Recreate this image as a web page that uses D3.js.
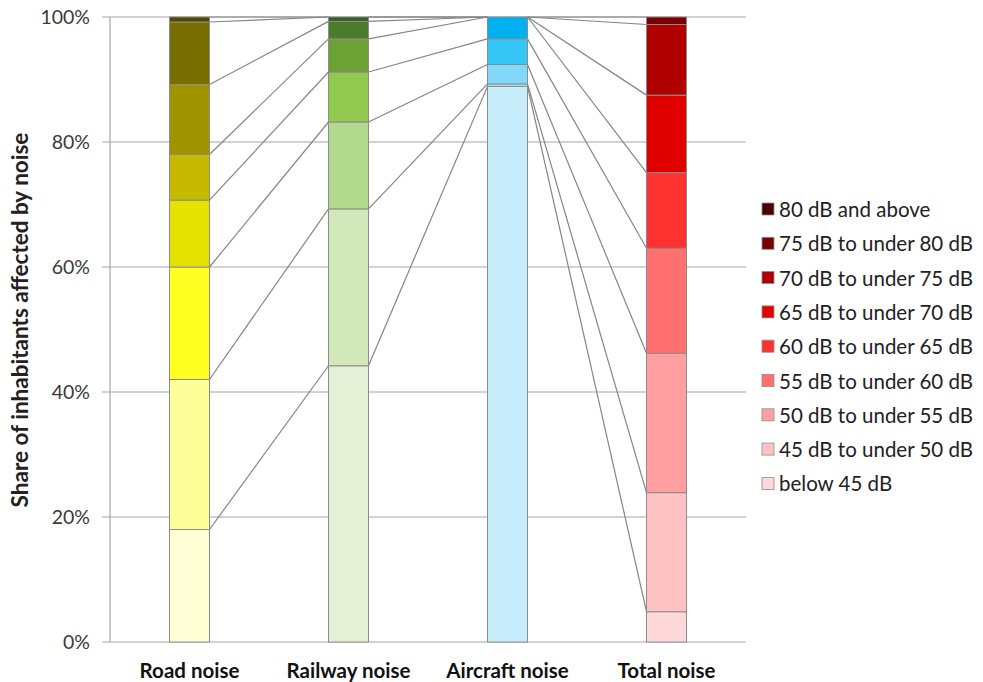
<!DOCTYPE html>
<html>
<head>
<meta charset="utf-8">
<script src="https://cdn.jsdelivr.net/npm/d3@7"></script>
<style>
  html, body { margin: 0; padding: 0; background: #ffffff; }
  svg { display: block; font-family: Lato, "Open Sans", sans-serif; }
</style>
</head>
<body>
<svg id="chart" width="983" height="682"></svg>
<script>
// ---- Data ----
const categories = ["Road noise", "Railway noise", "Aircraft noise", "Total noise"];
const bands = ["below 45 dB", "45 dB to under 50 dB", "50 dB to under 55 dB", "55 dB to under 60 dB",
               "60 dB to under 65 dB", "65 dB to under 70 dB", "70 dB to under 75 dB",
               "75 dB to under 80 dB", "80 dB and above"];
const roadValues     = [18.0, 24.0, 18.0, 10.7, 7.3, 11.2, 10.0, 0.8, 0];
const railwayValues  = [44.2, 25.1, 13.9, 8.0, 5.3, 2.8, 0.7, 0, 0];
const aircraftValues = [88.9, 0.4, 3.1, 4.1, 3.5, 0, 0, 0, 0];
const totalValues    = [4.85, 19.05, 22.3, 16.8, 12.1, 12.4, 11.3, 1.2, 0];
const yTickValues = [0, 20, 40, 60, 80, 100];
const yTickLabels = ["0%", "20%", "40%", "60%", "80%", "100%"];
const legendOrder = bands.slice().reverse();

// ---- Colours ----
const palettes = {
  "Road noise":     ["#ffffd6", "#ffff99", "#ffff22", "#e6e200", "#c6ba00", "#9f9300", "#786e00", "#504900", "#333000"],
  "Railway noise":  ["#e4f1d7", "#d1e8bb", "#b3da8c", "#92c950", "#6aa334", "#4b7c2b", "#3a5e22", "#2a4418", "#1c2e10"],
  "Aircraft noise": ["#c8eefb", "#a6e3f8", "#80d9f9", "#35c6f6", "#00b0f0", "#0090c8", "#0070a0", "#005078", "#003050"],
  "Total noise":    ["#ffd9d9", "#ffc2c2", "#ff9f9f", "#ff7070", "#ff3232", "#e00000", "#b00000", "#7a0000", "#4a0000"]
};

// ---- Table ----
const seriesByCat = {
  "Road noise": roadValues, "Railway noise": railwayValues,
  "Aircraft noise": aircraftValues, "Total noise": totalValues
};
const table = categories.map(c => {
  const row = { category: c };
  bands.forEach((b, i) => row[b] = seriesByCat[c][i]);
  return row;
});
const stacked = d3.stack().keys(bands)(table);

// ---- Layout ----
const svg = d3.select("#chart");
const plotLeft = 110, plotRight = 746, plotTop = 17, plotBottom = 642;

const x = d3.scaleBand().domain(categories).range([plotLeft, plotRight]).paddingInner(0).paddingOuter(0);
const barW = 40;
const y = d3.scaleLinear().domain([0, 100]).range([plotBottom, plotTop]);

// gridlines
svg.append("g")
  .selectAll("line")
  .data(yTickValues)
  .join("line")
  .attr("x1", plotLeft - 8)
  .attr("x2", plotRight)
  .attr("y1", d => y(d))
  .attr("y2", d => y(d))
  .attr("stroke", "#a6a6a6")
  .attr("stroke-width", 1.2);

// y axis line
svg.append("line")
  .attr("x1", plotLeft).attr("x2", plotLeft)
  .attr("y1", y(0)).attr("y2", y(100))
  .attr("stroke", "#a6a6a6").attr("stroke-width", 1.2);

// y tick labels
const yAxis = d3.axisLeft(y).tickValues(yTickValues)
  .tickFormat((d, i) => yTickLabels[i]).tickSize(0).tickPadding(0);
const gy = svg.append("g").attr("transform", `translate(${plotLeft - 20},0)`).call(yAxis);
gy.select(".domain").remove();
gy.selectAll("text")
  .attr("font-family", "Lato, sans-serif")
  .attr("font-size", 19.5)
  .attr("fill", "#3a3a3a");

// connecting lines
const cx = c => x(c) + x.bandwidth() / 2;
const connectors = [];
for (let i = 0; i < categories.length - 1; i++) {
  const a = categories[i], b = categories[i + 1];
  for (let k = 0; k < bands.length - 1; k++) {
    connectors.push({
      x1: cx(a) + barW / 2, y1: y(stacked[k][i][1]),
      x2: cx(b) - barW / 2, y2: y(stacked[k][i + 1][1])
    });
  }
}
svg.append("g")
  .selectAll("line")
  .data(connectors)
  .join("line")
  .attr("x1", d => d.x1).attr("y1", d => d.y1)
  .attr("x2", d => d.x2).attr("y2", d => d.y2)
  .attr("stroke", "#858585")
  .attr("stroke-width", 1.2);

// bars
svg.append("g")
  .selectAll("g")
  .data(stacked)
  .join("g")
  .selectAll("rect")
  .data((s, k) => s.map(d => ({ d, k })).filter(o => o.d[1] - o.d[0] > 0))
  .join("rect")
  .attr("x", o => cx(o.d.data.category) - barW / 2)
  .attr("width", barW)
  .attr("y", o => y(o.d[1]))
  .attr("height", o => y(o.d[0]) - y(o.d[1]))
  .attr("fill", o => palettes[o.d.data.category][o.k])
  .attr("stroke", "#8c8c8c")
  .attr("stroke-width", 1);

// x labels
const xAxis = d3.axisBottom(x).tickSize(0).tickPadding(0);
const gx = svg.append("g").attr("transform", `translate(0,${plotBottom + 29})`).call(xAxis);
gx.select(".domain").remove();
gx.selectAll("text")
  .attr("font-family", "Lato, sans-serif")
  .attr("font-size", 20.5)
  .attr("font-weight", "bold")
  .attr("fill", "#111")
  .attr("dy", "0.32em");

// y title
svg.append("text")
  .attr("transform", `translate(22,320) rotate(-90)`)
  .attr("text-anchor", "middle")
  .attr("dominant-baseline", "middle")
  .attr("font-family", "Lato, sans-serif")
  .attr("font-size", 22.5)
  .attr("font-weight", "bold")
  .attr("fill", "#222")
  .text("Share of inhabitants affected by noise");

// legend
const legendColors = palettes["Total noise"].slice().reverse();
const lg = svg.append("g").attr("transform", "translate(762,209)");
const rowH = 34.3;
const items = lg.selectAll("g").data(legendOrder).join("g")
  .attr("transform", (d, i) => `translate(0,${i * rowH})`);
items.append("rect")
  .attr("x", 0).attr("y", -6).attr("width", 12).attr("height", 12)
  .attr("fill", (d, i) => legendColors[i])
  .attr("stroke", "#8c8c8c").attr("stroke-width", 0.8);
items.append("text")
  .attr("x", 17).attr("y", 0)
  .attr("dominant-baseline", "central")
  .attr("font-family", "Lato, sans-serif")
  .attr("font-size", 20.5)
  .attr("fill", "#222")
  .text(d => d);
</script>
</body>
</html>
